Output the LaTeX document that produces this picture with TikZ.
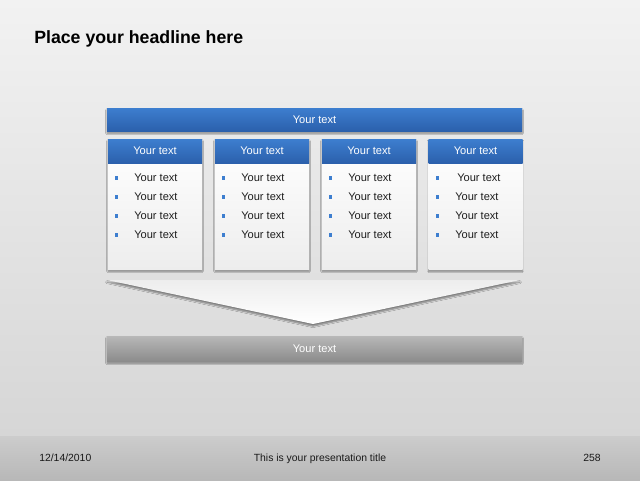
\documentclass[tikz,border=0pt]{standalone}
\usepackage{fontspec}
\setmainfont{Liberation Sans}
\usetikzlibrary{shadows.blur}
\definecolor{bluetop}{HTML}{3D7ECF}
\definecolor{bluebot}{HTML}{2B60AC}
\definecolor{bgtop}{HTML}{F2F2F2}
\definecolor{bgbot}{HTML}{D6D6D6}
\begin{document}
\begin{tikzpicture}[x=0.75pt,y=-0.75pt,
  shade/.style={blur shadow={shadow xshift=0pt,shadow yshift=-1.6pt,shadow blur steps=6,shadow blur radius=1.1pt,shadow opacity=45}},
  bluebar/.style={inner sep=0pt,text=white,font=\fontsize{8.3}{9}\selectfont,top color=bluetop,bottom color=bluebot},
  topbar/.style={bluebar,shade,minimum width=311.25pt,minimum height=17.25pt},
  hdr/.style={bluebar,minimum width=70.5pt,minimum height=18pt},
  card/.style={shade,inner sep=0pt,minimum width=70.5pt,minimum height=97.5pt,top color=white,bottom color=black!7},
  bul/.style={inner sep=0pt,minimum size=2.4pt,fill=bluetop},
  item/.style={anchor=west,inner sep=0pt,text=black!88,font=\fontsize{8.3}{9}\selectfont,label={[bul,label distance=#1]left:{}}},
  item/.default=11.6pt,
  greybar/.style={shade,inner sep=0pt,text=white,font=\fontsize{8.3}{9}\selectfont,minimum width=311.25pt,minimum height=18.75pt,top color=black!28,bottom color=black!45},
  foot/.style={inner sep=0pt,text=black!90,font=\fontsize{7.8}{9}\selectfont}]
\useasboundingbox (0,0) rectangle (640,480);
% background and footer band
\path[top color=bgtop,bottom color=bgbot] (0,0) rectangle (640,436);
\path[top color=black!20,bottom color=black!28] (0,436) rectangle (640,480);
\node[anchor=base west,inner sep=0pt,font=\fontsize{13.3}{15}\selectfont\bfseries] (title) at (34,43) {Place your headline here};
\node[topbar] (top) at (314.5,119.5) {Your text};
\begin{scope}
\node[card] (c1) at (155,204) {};
\node[card] (c2) at (262,204) {};
\node[card] (c3) at (369,204) {};
\node[card] (c4) at (475.5,204) {};
\node[hdr] (h1) at (155,151) {Your text};
\node[hdr] (h2) at (262,151) {Your text};
\node[hdr] (h3) at (369,151) {Your text};
\node[hdr] (h4) at (475.5,151) {Your text};
\end{scope}
\begin{scope}
\node[item] (a1) at (134,178) {Your text};
\node[item] (a2) at (134,197) {Your text};
\node[item] (a3) at (134,216) {Your text};
\node[item] (a4) at (134,235) {Your text};
\node[item] (b1) at (241,178) {Your text};
\node[item] (b2) at (241,197) {Your text};
\node[item] (b3) at (241,216) {Your text};
\node[item] (b4) at (241,235) {Your text};
\node[item] (d1) at (348,178) {Your text};
\node[item] (d2) at (348,197) {Your text};
\node[item] (d3) at (348,216) {Your text};
\node[item] (d4) at (348,235) {Your text};
\node[item=13.1pt] (e1) at (457,178) {Your text};
\node[item] (e2) at (455,197) {Your text};
\node[item] (e3) at (455,216) {Your text};
\node[item] (e4) at (455,235) {Your text};
\end{scope}
% funnel arrow
\path[shade,top color=black!7,bottom color=white] (107,280) -- (520,280) -- (313,324) -- cycle;
\node[greybar] (bot) at (314.5,348.5) {Your text};
\node[foot,anchor=base west] (date) at (39,461) {12/14/2010};
\node[foot,anchor=base] (ptitle) at (320,461) {This is your presentation title};
\node[foot,anchor=base east] (page) at (601,461) {258};
\end{tikzpicture}
\end{document}
